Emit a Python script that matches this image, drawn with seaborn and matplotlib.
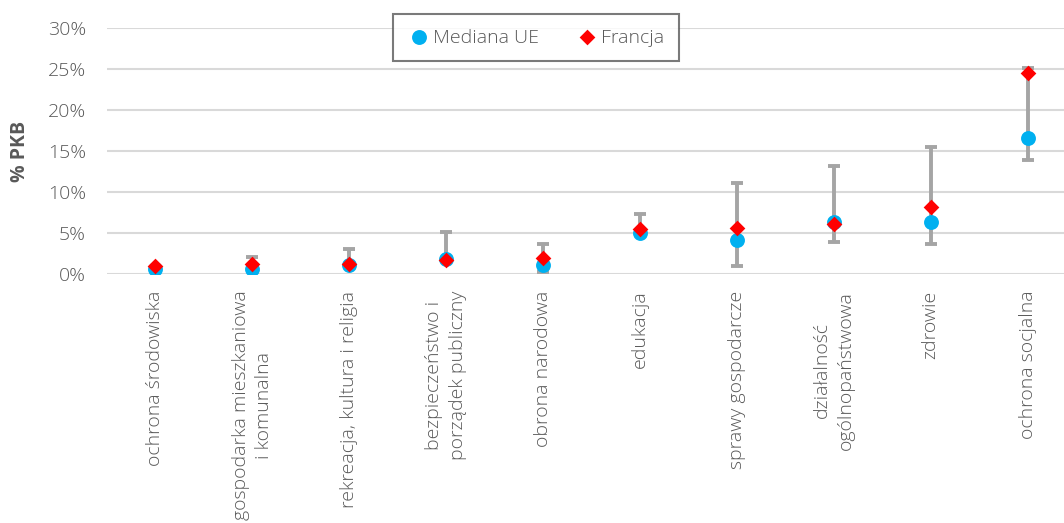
import matplotlib
matplotlib.use("Agg")
import matplotlib.pyplot as plt
import seaborn as sns
import pandas as pd
from matplotlib.ticker import FuncFormatter

categories = [
    "ochrona środowiska",
    "gospodarka mieszkaniowa\ni komunalna",
    "rekreacja, kultura i religia",
    "bezpieczeństwo i\nporządek publiczny",
    "obrona narodowa",
    "edukacja",
    "sprawy gospodarcze",
    "działalność\nogólnopaństwowa",
    "zdrowie",
    "ochrona socjalna",
]
median_ue = [0.6, 0.6, 1.15, 1.8, 1.1, 5.0, 4.2, 6.3, 6.3, 16.6]
francja = [1.0, 1.2, 1.2, 1.7, 1.9, 5.5, 5.6, 6.1, 8.2, 24.5]
range_low = [0.6, 0.6, 1.15, 1.8, 0.2, 5.0, 1.0, 3.9, 3.6, 13.9]
range_high = [0.9, 2.1, 3.0, 5.1, 3.6, 7.3, 11.1, 13.2, 15.5, 25.1]
yticks = [0, 5, 10, 15, 20, 25, 30]

df = pd.DataFrame({"kategoria": categories, "Mediana UE": median_ue,
                   "Francja": francja, "low": range_low, "high": range_high})

sns.set_theme(style="white")
plt.rcParams["font.family"] = ["Open Sans", "DejaVu Sans"]

W, H = 1064, 523
fig = plt.figure(figsize=(W / 100, H / 100), dpi=100)
ax = fig.add_axes([107 / W, 1 - 274 / H, 969 / W, 246 / H])

text_col = "#595959"
grid_col = "#D9D9D9"

# range bars
yerr = [df["Mediana UE"] - df["low"], df["high"] - df["Mediana UE"]]
ax.errorbar(df["kategoria"], df["Mediana UE"], yerr=yerr, fmt="none",
            ecolor="#A5A5A5", elinewidth=2.8, capsize=4, capthick=2.8, zorder=3)

sns.scatterplot(data=df, x="kategoria", y="Mediana UE", ax=ax, marker="o",
                s=115, color="#00B0F0", linewidth=0, zorder=4, label="Mediana UE",
                legend=False)
sns.scatterplot(data=df, x="kategoria", y="Francja", ax=ax, marker="D",
                s=64, color="#FF0000", linewidth=0, zorder=5, label="Francja",
                legend=False)

ax.set_xlim(-0.5, len(categories) - 0.5)
ax.set_ylim(0, 30)
ax.set_yticks(yticks)
ax.yaxis.set_major_formatter(FuncFormatter(lambda v, p: f"{v:.0f}%"))
ax.grid(axis="y", color=grid_col, linewidth=1.5)
ax.grid(axis="x", visible=False)
ax.set_axisbelow(True)
for s in ax.spines.values():
    s.set_visible(False)
ax.tick_params(axis="both", length=0, labelsize=14, labelcolor=text_col)
ax.tick_params(axis="y", pad=15)
ax.tick_params(axis="x", pad=12)
ax.set_xlabel("")
ax.set_ylabel("")
for lab in ax.get_xticklabels() + ax.get_yticklabels():
    lab.set_fontweight("light")
for lab in ax.get_xticklabels():
    lab.set_rotation(90)
    lab.set_ha("center")
    lab.set_va("top")
    lab.set_multialignment("center")
    lab.set_linespacing(1.4)

fig.text(20 / W, 1 - 151 / H, "% PKB", rotation=90, ha="center", va="center",
         fontsize=14, fontweight="bold", color=text_col)

handles, labels = ax.get_legend_handles_labels()
leg = fig.legend(handles, labels, loc="upper left",
                 bbox_to_anchor=(393 / W, 1 - 14 / H), ncol=2, frameon=True,
                 fancybox=False, edgecolor="#595959",
                 prop={"size": 14, "weight": "light"},
                 handletextpad=0.1, columnspacing=1.9, handlelength=1.2,
                 borderpad=0.75, borderaxespad=0, labelcolor=text_col)
leg.get_frame().set_linewidth(1.5)

fig.savefig("out.png", dpi=100)
